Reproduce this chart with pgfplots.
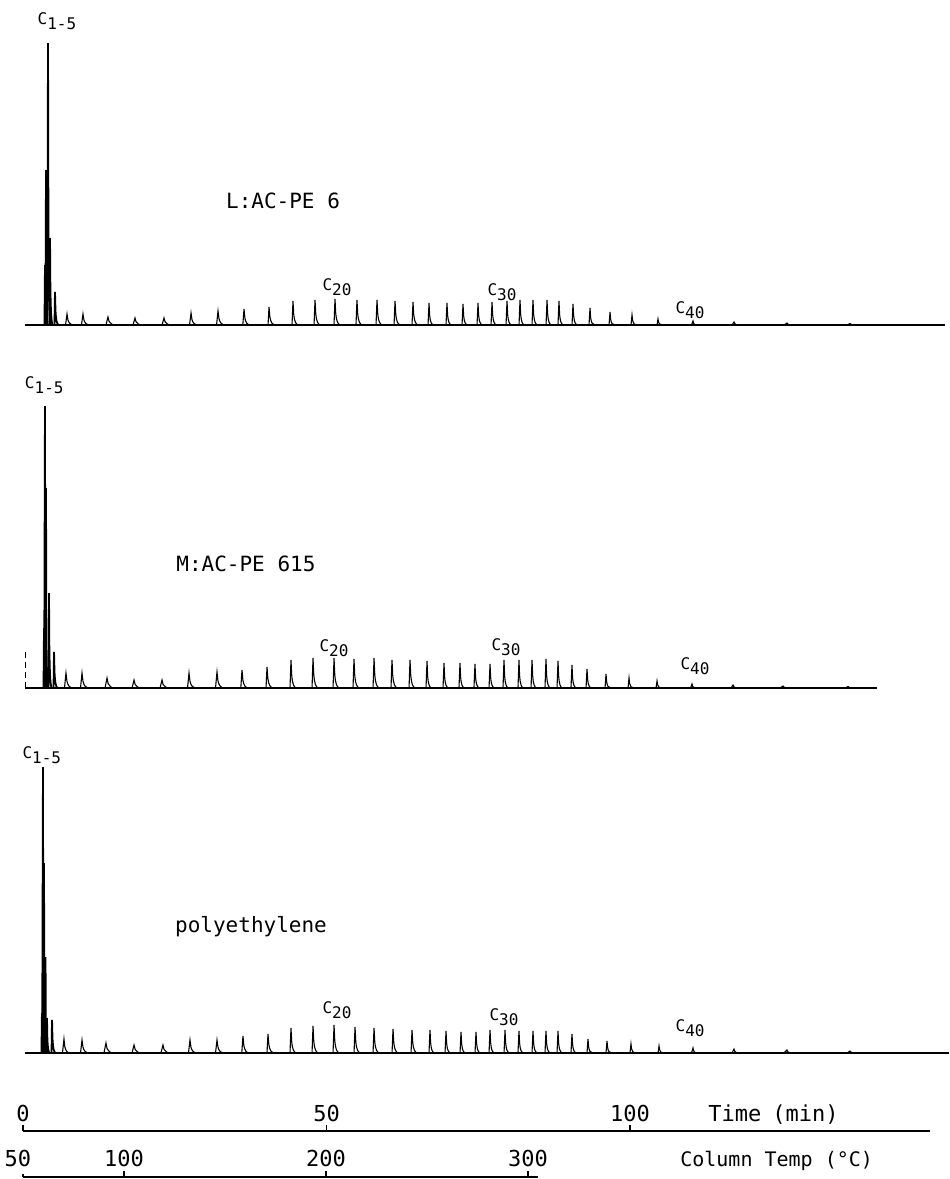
\documentclass[border=0pt]{standalone}
\usepackage{fontspec}
\usepackage{graphicx}
\usepackage{pgfplots}
\pgfplotsset{compat=1.18}
\usepackage{pgfplotstable}
\setmainfont{DejaVu Sans}
\newfontfamily\plotfont{DejaVu Sans Mono}

% one chromatographic peak: steep front, short tail back to the baseline
% (\pkh = height, \pkr = front width, \pkd = tail length, all in pt)
\pgfdeclareplotmark{gcpeak}{%
  \pgfpathmoveto{\pgfpoint{-\pkr pt}{-\pkh pt}}%
  \pgfpathlineto{\pgfpointorigin}%
  \pgfpathlineto{\pgfpoint{0.12*\pkd pt}{-0.55*\pkh pt}}%
  \pgfpathcurveto{\pgfpoint{0.25*\pkd pt}{-0.85*\pkh pt}}%
    {\pgfpoint{0.45*\pkd pt}{-\pkh pt}}%
    {\pgfpoint{\pkd pt}{-\pkh pt}}%
  \pgfusepathqstroke}

\pgfplotsset{
  trace/.style={
    at={(0pt,#1)}, anchor=south west, scale only axis,
    x=3.035pt, y=0.5pt, xmin=-3.79, xmax=152.55, ymin=0, ymax=310,
    axis lines=none, clip=false},
  peaks/.style={
    scatter, only marks, mark=gcpeak,
    scatter/use mapped color={draw=black, fill=black},
    visualization depends on={0.5*\thisrow{h} \as \pkh},
    visualization depends on={0.5*\thisrow{r} \as \pkr},
    visualization depends on={0.5*\thisrow{d} \as \pkd},
    line width=0.55pt},
}
\tikzset{
  lbl/.style={font=\plotfont\fontsize{8}{9}\selectfont, inner sep=0pt},
  samplelbl/.style={font=\plotfont\fontsize{10.5}{12}\selectfont, inner sep=0pt, anchor=west},
  ticklbl/.style={font=\plotfont\fontsize{11}{13}\selectfont, inner sep=0pt, anchor=base},
}
\newcommand\cn[1]{C\raisebox{-2.5pt}{#1}}

% peaks: retention time (min), height, front width, tail length
\pgfplotstableread[row sep=\\]{
t h r d\\
3.62 60 0.5 2\\ 3.79 155 0.6 2\\ 4.12 282 0.8 3\\ 4.45 87 0.5 3\\ 5.27 33 0.5 4\\
}\clusterA
\pgfplotstableread[row sep=\\]{
t h r d\\
7.25 11 1.5 8\\ 9.88 11 1.5 8\\ 14.00 8 2 9\\ 18.45 7 2 9\\ 23.23 7 2 9\\
27.68 12 1.5 8\\ 32.13 14 1.5 8\\ 36.41 16 1.2 7\\ 40.53 18 1 7\\ 44.48 24 1 6\\
48.11 25 1 6\\ 51.40 26 1 6\\ 55.02 25 1 6\\ 58.32 25 1 6\\ 61.29 24 1 6\\
64.25 23 1 6\\ 66.89 22 1 5\\ 69.85 22 1 5\\ 72.49 21 1 5\\ 74.96 22 1 5\\
77.27 23 1 5\\ 79.74 24 1 5\\ 81.88 25 1 5\\ 84.02 25 1 5\\ 86.33 25 1 5\\
88.30 24 1 5\\ 90.61 21 1 5\\ 93.41 17 1 5\\ 96.71 13 1 5\\ 100.33 10 1 5\\
104.61 6 1 5\\ 110.38 4 1.5 5\\ 117.13 3 2 6\\ 125.86 2 3 7\\ 136.24 1.5 3 8\\
}\peaksA

\pgfplotstableread[row sep=\\]{
t h r d\\
3.46 60 0.5 2\\ 3.62 282 0.8 2\\ 3.79 200 0.6 2\\ 4.28 95 0.5 3\\ 5.11 36 0.5 4\\
}\clusterB
\pgfplotstableread[row sep=\\]{
t h r d\\
7.08 15 1.5 8\\ 9.72 15 1.5 8\\ 13.84 10 2 9\\ 18.29 8 2 9\\ 22.90 8 2 9\\
27.35 15 1.5 8\\ 31.96 16 1.5 8\\ 36.08 18 1.2 7\\ 40.20 21 1 7\\ 44.15 28 1 6\\
47.78 30 1 6\\ 51.24 30 1 6\\ 54.53 29 1 6\\ 57.83 30 1 6\\ 60.79 28 1 6\\
63.76 28 1 6\\ 66.56 27 1 5\\ 69.36 25 1 5\\ 71.99 25 1 5\\ 74.46 24 1 5\\
76.94 24 1 5\\ 79.24 28 1 5\\ 81.71 28 1 5\\ 83.86 28 1 5\\ 86.16 29 1 5\\
88.14 27 1 5\\ 90.44 23 1 5\\ 92.92 19 1 5\\ 96.05 14 1 5\\ 99.84 10 1 5\\
104.45 7 1 5\\ 110.21 4 1.5 5\\ 116.97 3 2 6\\ 125.21 2 3 7\\ 135.91 1.5 3 8\\
}\peaksB

\pgfplotstableread[row sep=\\]{
t h r d\\
3.12 40 0.5 2\\ 3.29 286 0.8 2\\ 3.46 190 0.6 2\\ 3.71 96 0.5 2\\ 3.95 35 0.5 3\\ 4.78 33 0.5 4\\
}\clusterC
\pgfplotstableread[row sep=\\]{
t h r d\\
6.75 14 1.5 7\\ 9.72 13 1.5 8\\ 13.67 10 2 9\\ 18.29 8 2 9\\ 23.06 8 2 9\\
27.51 13 1.5 8\\ 31.96 13 1.5 8\\ 36.24 17 1.2 7\\ 40.36 19 1 7\\ 44.15 25 1 6\\
47.78 27 1 6\\ 51.24 28 1 6\\ 54.70 26 1 6\\ 57.83 25 1 6\\ 60.96 24 1 6\\
64.09 23 1 6\\ 67.05 23 1 5\\ 69.69 22 1 5\\ 72.16 21 1 5\\ 74.63 21 1 5\\
76.94 23 1 5\\ 79.41 23 1 5\\ 81.71 22 1 5\\ 84.02 22 1 5\\ 86.16 22 1 5\\
88.14 22 1 5\\ 90.44 19 1 5\\ 93.08 14 1 5\\ 96.21 12 1 5\\ 100.16 9 1 5\\
104.78 7 1 5\\ 110.38 5 1.5 5\\ 117.13 4 2 6\\ 125.86 3 3 7\\ 136.24 2 3 8\\
}\peaksC

\begin{document}
\begin{tikzpicture}
\useasboundingbox (0,0) rectangle (474.5pt,-589.5pt);

% ---- L: AC-PE 6
\begin{axis}[trace=-162.5pt]
  \addplot[line width=0.55pt] coordinates {(0.33,0) (151.9,0)};
  \addplot[peaks] table[x=t, y=h] {\peaksA};
  \addplot[peaks, line width=0.9pt] table[x=t, y=h] {\clusterA};
  \node[lbl] at (axis cs:5.6,304) {\cn{1-5}};
  \node[samplelbl] at (axis cs:33.4,124) {L:AC-PE 6};
  \node[lbl] at (axis cs:51.73,38) {\cn{20}};
  \node[lbl] at (axis cs:78.91,33) {\cn{30}};
  \node[lbl] at (axis cs:109.88,15) {\cn{40}};
\end{axis}

% ---- M: AC-PE 615
\begin{axis}[trace=-344pt]
  \addplot[line width=0.55pt] coordinates {(0.33,0) (140.7,0)};
  \addplot[line width=0.4pt, densely dashed] coordinates {(0.33,0) (0.33,39)};
  \addplot[peaks] table[x=t, y=h] {\peaksB};
  \addplot[peaks, line width=0.9pt] table[x=t, y=h] {\clusterB};
  \node[lbl] at (axis cs:3.5,303) {\cn{1-5}};
  \node[samplelbl] at (axis cs:25.2,124) {M:AC-PE 615};
  \node[lbl] at (axis cs:51.24,40) {\cn{20}};
  \node[lbl] at (axis cs:79.57,41) {\cn{30}};
  \node[lbl] at (axis cs:110.7,22) {\cn{40}};
\end{axis}

% ---- polyethylene
\begin{axis}[trace=-526.5pt]
  \addplot[line width=0.55pt] coordinates {(0.33,0) (152.5,0)};
  \addplot[peaks] table[x=t, y=h] {\peaksC};
  \addplot[peaks, line width=0.9pt] table[x=t, y=h] {\clusterC};
  \node[lbl] at (axis cs:3.1,298) {\cn{1-5}};
  \node[samplelbl] at (axis cs:25.0,126) {polyethylene};
  \node[lbl] at (axis cs:51.73,43) {\cn{20}};
  \node[lbl] at (axis cs:79.24,36) {\cn{30}};
  \node[lbl] at (axis cs:109.9,25) {\cn{40}};
\end{axis}

% ---- time scale
\begin{axis}[at={(11.5pt,-565.5pt)}, anchor=south west, scale only axis,
  x=3.035pt, y=0.5pt, xmin=0, xmax=149.5, ymin=0, ymax=20,
  axis lines=none, clip=false]
  \addplot[line width=0.75pt] coordinates {(0,0) (149.5,0)};
  \addplot[ycomb, line width=0.6pt] coordinates {(0,6) (50,6) (100,6)};
  \node[ticklbl] at (axis cs:0,10) {0};
  \node[ticklbl] at (axis cs:50,10) {50};
  \node[ticklbl] at (axis cs:100,10) {100};
  \node[ticklbl, anchor=base west] at (axis cs:112.85,10) {Time\hspace{0.5em}(min)};
\end{axis}

% ---- column temperature scale
\begin{axis}[at={(11.5pt,-588.5pt)}, anchor=south west, scale only axis,
  x=1.01pt, y=0.5pt, xmin=50, xmax=305, ymin=0, ymax=20,
  axis lines=none, clip=false]
  \addplot[line width=0.6pt] coordinates {(50,0) (305,0)};
  \addplot[ycomb, line width=0.6pt] coordinates {(50,3) (100,6) (200,6) (300,6)};
  \node[ticklbl] at (axis cs:47.5,11) {50};
  \node[ticklbl] at (axis cs:100,11) {100};
  \node[ticklbl] at (axis cs:200,11) {200};
  \node[ticklbl] at (axis cs:300,11) {300};
  \node[ticklbl, anchor=base west, font=\plotfont\fontsize{10}{12}\selectfont] at (axis cs:375.2,11) {Column Temp (°C)};
\end{axis}
\end{tikzpicture}
\end{document}
